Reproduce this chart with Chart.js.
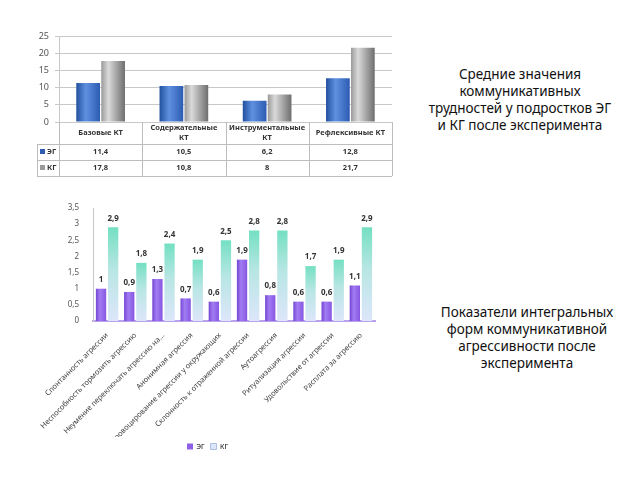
<!DOCTYPE html>
<html>
<head>
<meta charset="utf-8">
<script src="https://cdn.jsdelivr.net/npm/chart.js@4/dist/chart.umd.min.js"></script>
<style>
  body { margin: 0; background: #fff; width: 640px; height: 480px; position: relative; overflow: hidden; }
  .box { position: absolute; }
  .note { position: absolute; width: 240px; text-align: center; font-family: "Noto Sans", sans-serif; font-size: 13.5px; line-height: 17px; color: #111; white-space: nowrap; }
</style>
</head>
<body>
<div class="box" style="left:0;top:25px;width:400px;height:160px"><canvas id="ktChart"></canvas></div>
<div class="box" style="left:40px;top:195px;width:345px;height:265px"><canvas id="agrChart"></canvas></div>
<div class="note" style="left:400px;top:66px">Средние значения<br>коммуникативных<br>трудностей у подростков ЭГ<br>и КГ после эксперимента</div>
<div class="note" style="left:407px;top:304px">Показатели интегральных<br>форм коммуникативной<br>агрессивности после<br>эксперимента</div>
<script>
// communicative difficulties (top chart)
const ktCategories = ['Базовые КТ', 'Содержательные КТ', 'Инструментальные КТ', 'Рефлексивные КТ']
const ktEG = [11.4, 10.5, 6.2, 12.8]
const ktKG = [17.8, 10.8, 8, 21.7]

// aggression forms (bottom chart)
const agrCategories = [
  'Спонтанность агрессии',
  'Неспособность тормозить агрессию',
  'Неумение переключать агрессию на...',
  'Анонимная агрессия',
  'Провоцирование агрессии у окружающих',
  'Склонность к отраженной агрессии',
  'Аутоагрессия',
  'Ритуализация агрессии',
  'Удовольствие от агрессии',
  'Расплата за агрессию'
]
const agrEG = [1, 0.9, 1.3, 0.7, 0.6, 1.9, 0.8, 0.6, 0.6, 1.1]
const agrKG = [2.9, 1.8, 2.4, 1.9, 2.5, 2.8, 2.8, 1.7, 1.9, 2.9]

const seriesNames = ['ЭГ', 'КГ']
const fmt = v => String(v).replace('.', ',')

// figure out where a bar sits so the gradient can follow it
function barBox(context, catPct, barPct) {
  const chart = context.chart
  const x = chart.scales.x
  if (!chart.chartArea || !x) return null
  const n = chart.data.labels.length
  const cw = (x.right - x.left) / n
  const group = cw * catPct
  const slot = group / 2
  const bw = slot * barPct
  const c = x.getPixelForValue(context.dataIndex)
  const l = c - group / 2 + context.datasetIndex * slot + (slot - bw) / 2
  return { l, r: l + bw }
}

function hGrad(context, catPct, barPct, stops, fallback) {
  const b = barBox(context, catPct, barPct)
  if (!b) return fallback
  const g = context.chart.ctx.createLinearGradient(b.l, 0, b.r, 0)
  stops.forEach(s => g.addColorStop(s[0], s[1]))
  return g
}

// table under the first chart
const ktTable = {
  id: 'ktTable',
  afterDraw(chart) {
    const { ctx, chartArea: a, scales: { x } } = chart
    const n = ktCategories.length
    const cw = (a.right - a.left) / n
    const left = a.left - 22
    const r0 = a.bottom, r1 = r0 + 22, r2 = r1 + 16, r3 = r2 + 16
    ctx.save()
    ctx.strokeStyle = '#bdbdbd'
    ctx.lineWidth = 1
    ctx.beginPath()
    ;[r1, r2, r3].forEach(y => { ctx.moveTo(left, y + 0.5); ctx.lineTo(a.right, y + 0.5) })
    for (let i = 0; i <= n; i++) {
      const xx = Math.round(a.left + i * cw) + 0.5
      ctx.moveTo(xx, r0); ctx.lineTo(xx, r3)
    }
    ctx.moveTo(left + 0.5, r1); ctx.lineTo(left + 0.5, r3)
    ctx.stroke()

    ctx.fillStyle = '#333'
    ctx.textAlign = 'center'
    ctx.textBaseline = 'middle'
    ctx.font = 'bold 7.5px "Noto Sans"'
    ktCategories.forEach((lab, i) => {
      const cx = x.getPixelForValue(i)
      if (ctx.measureText(lab).width > cw - 8) {
        const k = lab.lastIndexOf(' ')
        ctx.fillText(lab.slice(0, k), cx, r0 + 6)
        ctx.fillText(lab.slice(k + 1), cx, r0 + 16)
      } else {
        ctx.fillText(lab, cx, r0 + 11)
      }
      ctx.fillText(fmt(ktEG[i]), cx, r1 + 8)
      ctx.fillText(fmt(ktKG[i]), cx, r2 + 8)
    })
    // row keys
    ctx.textAlign = 'left'
    ;[[r1, '#2f5cb0'], [r2, '#9a9a9a']].forEach((row, j) => {
      ctx.fillStyle = row[1]
      ctx.fillRect(left + 3, row[0] + 5, 5, 5)
      ctx.fillStyle = '#333'
      ctx.fillText(seriesNames[j], left + 10, row[0] + 8)
    })
    ctx.restore()
  }
}

new Chart(document.getElementById('ktChart'), {
  type: 'bar',
  data: {
    labels: ktCategories,
    datasets: [
      {
        label: seriesNames[0],
        data: ktEG,
        backgroundColor: c => hGrad(c, 0.6, 0.95, [[0, '#22509f'], [0.4, '#5f90e0'], [1, '#2c5cb2']], '#3a68bd')
      },
      {
        label: seriesNames[1],
        data: ktKG,
        backgroundColor: c => hGrad(c, 0.6, 0.95, [[0, '#9a9a9a'], [0.3, '#dadada'], [1, '#6e6e6e']], '#a8a8a8')
      }
    ]
  },
  options: {
    responsive: true,
    maintainAspectRatio: false,
    animation: false,
    categoryPercentage: 0.6,
    barPercentage: 0.95,
    layout: { padding: { left: 0, right: 8, top: 11, bottom: 63 } },
    plugins: { legend: { display: false }, tooltip: { enabled: false } },
    scales: {
      x: { display: false },
      y: {
        min: 0, max: 25,
        ticks: { stepSize: 5, color: '#555', font: { family: 'Noto Sans', size: 9 }, padding: 6 },
        grid: { color: '#c8c8c8', tickLength: 4 },
        border: { color: '#c8c8c8' },
        afterFit: s => { s.width = 59 }
      }
    }
  },
  plugins: [ktTable]
})

// value labels above the bars of the second chart
const valueLabels = {
  id: 'valueLabels',
  afterDatasetsDraw(chart) {
    const ctx = chart.ctx
    ctx.save()
    ctx.font = 'bold 8px "Noto Sans"'
    ctx.fillStyle = '#333'
    ctx.textAlign = 'center'
    ctx.textBaseline = 'bottom'
    chart.data.datasets.forEach((ds, di) => {
      chart.getDatasetMeta(di).data.forEach((el, i) => {
        ctx.fillText(fmt(ds.data[i]), el.x, el.y - 5)
      })
    })
    ctx.restore()
  }
}

new Chart(document.getElementById('agrChart'), {
  type: 'bar',
  data: {
    labels: agrCategories,
    datasets: [
      {
        label: seriesNames[0],
        data: agrEG,
        backgroundColor: c => hGrad(c, 0.86, 0.85, [[0, '#7446d4'], [0.4, '#a27cf2'], [1, '#8656e2']], '#8f60e6')
      },
      {
        label: seriesNames[1],
        data: agrKG,
        backgroundColor: c => {
          const chart = c.chart
          if (!chart.chartArea) return '#bfe6e0'
          const top = chart.scales.y.getPixelForValue(c.raw)
          const g = chart.ctx.createLinearGradient(0, top, 0, chart.chartArea.bottom)
          g.addColorStop(0, '#74e0c2')
          g.addColorStop(0.45, '#b8e6e4')
          g.addColorStop(1, '#dde6fa')
          return g
        }
      }
    ]
  },
  options: {
    responsive: true,
    maintainAspectRatio: false,
    animation: false,
    categoryPercentage: 0.86,
    barPercentage: 0.85,
    layout: { padding: { left: 0, right: 10, top: 13, bottom: 0 } },
    plugins: {
      tooltip: { enabled: false },
      legend: {
        position: 'bottom',
        labels: {
          boxWidth: 6, boxHeight: 6, padding: 6, color: '#555',
          font: { family: 'Noto Sans', size: 7 },
          generateLabels: () => [
            { text: seriesNames[0], fillStyle: '#8f60e6', strokeStyle: '#8f60e6', lineWidth: 0, datasetIndex: 0 },
            { text: seriesNames[1], fillStyle: '#dde6fa', strokeStyle: '#a9bfe0', lineWidth: 1, datasetIndex: 1 }
          ]
        }
      }
    },
    scales: {
      x: {
        ticks: { minRotation: 45, maxRotation: 45, autoSkip: false, color: '#444', font: { family: 'Noto Sans', size: 7.5 }, padding: 2 },
        grid: { display: false },
        border: { color: '#b9a2ec', width: 2 },
        afterFit: s => { s.height = 116 }
      },
      y: {
        min: 0, max: 3.5,
        ticks: { stepSize: 0.5, color: '#555', font: { family: 'Noto Sans', size: 8 }, padding: 6, callback: v => fmt(v) },
        grid: { display: false },
        border: { color: '#c8c8c8' },
        afterFit: s => { s.width = 53 }
      }
    }
  },
  plugins: [valueLabels]
})
</script>
</body>
</html>
